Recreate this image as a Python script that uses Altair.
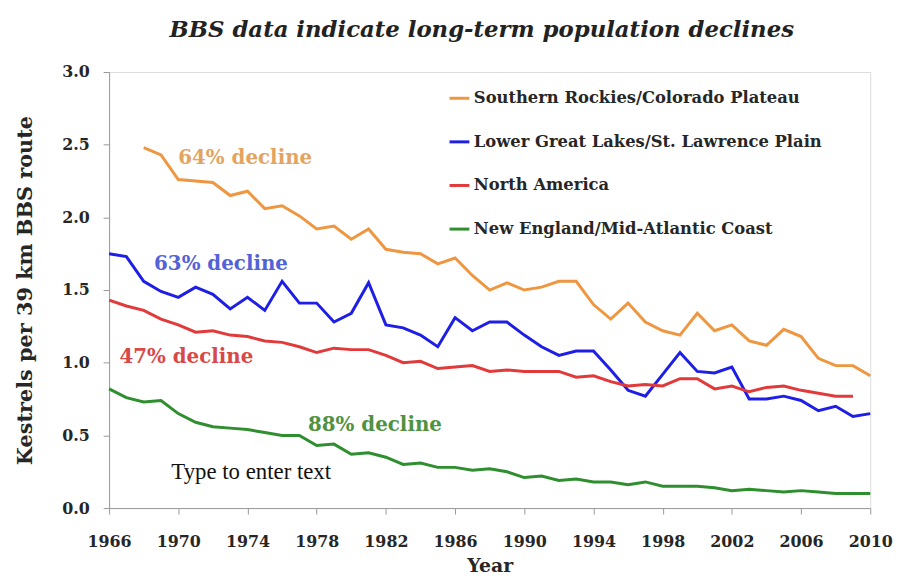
import altair as alt
import pandas as pd

years = list(range(1966, 2011))

south_rockies = [None, None, 2.48, 2.43, 2.26, 2.25, 2.24, 2.15, 2.18, 2.06, 2.08, 2.01, 1.92, 1.94, 1.85,
                 1.92, 1.78, 1.76, 1.75, 1.68, 1.72, 1.60, 1.50, 1.55, 1.50, 1.52, 1.56, 1.56, 1.40, 1.30,
                 1.41, 1.28, 1.22, 1.19, 1.34, 1.22, 1.26, 1.15, 1.12, 1.23, 1.18, 1.03, 0.98, 0.98, 0.91]
great_lakes = [1.75, 1.73, 1.56, 1.49, 1.45, 1.52, 1.47, 1.37, 1.45, 1.36, 1.56, 1.41, 1.41, 1.28, 1.34,
               1.55, 1.26, 1.24, 1.19, 1.11, 1.31, 1.22, 1.28, 1.28, 1.19, 1.11, 1.05, 1.08, 1.08, 0.95,
               0.81, 0.77, 0.92, 1.07, 0.94, 0.93, 0.97, 0.75, 0.75, 0.77, 0.74, 0.67, 0.70, 0.63, 0.65]
north_america = [1.43, 1.39, 1.36, 1.30, 1.26, 1.21, 1.22, 1.19, 1.18, 1.15, 1.14, 1.11, 1.07, 1.10, 1.09,
                 1.09, 1.05, 1.00, 1.01, 0.96, 0.97, 0.98, 0.94, 0.95, 0.94, 0.94, 0.94, 0.90, 0.91, 0.87,
                 0.84, 0.85, 0.84, 0.89, 0.89, 0.82, 0.84, 0.80, 0.83, 0.84, 0.81, 0.79, 0.77, 0.77, None]
new_england = [0.82, 0.76, 0.73, 0.74, 0.65, 0.59, 0.56, 0.55, 0.54, 0.52, 0.50, 0.50, 0.43, 0.44, 0.37,
               0.38, 0.35, 0.30, 0.31, 0.28, 0.28, 0.26, 0.27, 0.25, 0.21, 0.22, 0.19, 0.20, 0.18, 0.18,
               0.16, 0.18, 0.15, 0.15, 0.15, 0.14, 0.12, 0.13, 0.12, 0.11, 0.12, 0.11, 0.10, 0.10, 0.10]

series_names = ["Southern Rockies/Colorado Plateau", "Lower Great Lakes/St. Lawrence Plain",
                "North America", "New England/Mid-Atlantic Coast"]
series_values = [south_rockies, great_lakes, north_america, new_england]
series_colors = ["#EE9640", "#1E1EE6", "#E23A3A", "#2F8F2F"]

ann_text = ["64% decline", "63% decline", "47% decline", "88% decline"]
ann_year = [1970.0, 1968.6, 1966.6, 1977.5]
ann_val = [2.41, 1.68, 1.04, 0.57]
ann_color = ["#E3A462", "#5262D8", "#D84848", "#4F9241"]

note_text = ["Type to enter text"]
note_year = [1969.6]
note_val = [0.25]

x_ticks = list(range(1966, 2011, 4))
y_ticks = [0.0, 0.5, 1.0, 1.5, 2.0, 2.5, 3.0]

rows = []
for name, vals in zip(series_names, series_values):
    for y, v in zip(years, vals):
        if v is not None:
            rows.append({"Year": y, "Value": v, "Series": name})
df = pd.DataFrame(rows)

ann_df = pd.DataFrame({"text": ann_text, "Year": ann_year, "Value": ann_val, "color": ann_color})
note_df = pd.DataFrame({"text": note_text, "Year": note_year, "Value": note_val})

BOLD_FONT = "DejaVu Serif"
NOTE_FONT = "Liberation Serif"

x_scale = alt.Scale(domain=[1966, 2010], nice=False, zero=False)
y_scale = alt.Scale(domain=[0, 3.0], nice=False)

lines = alt.Chart(df).mark_line(strokeWidth=3).encode(
    x=alt.X("Year:Q", scale=x_scale,
            axis=alt.Axis(values=x_ticks, format="d", title="Year", grid=False,
                          labelFont=BOLD_FONT, labelFontSize=16, labelFontWeight="bold", labelColor="#262626",
                          titleFont=BOLD_FONT, titleFontSize=19, titleFontWeight="bold", titleColor="#262626",
                          tickSize=6, labelPadding=20, titlePadding=7,
                          domainColor="#999", tickColor="#999", labelFlush=False)),
    y=alt.Y("Value:Q", scale=y_scale,
            axis=alt.Axis(values=y_ticks, format=".1f", title="Kestrels per 39 km BBS route", grid=False,
                          labelFont=BOLD_FONT, labelFontSize=16, labelFontWeight="bold", labelColor="#262626",
                          titleFont=BOLD_FONT, titleFontSize=21, titleFontWeight="bold", titleColor="#262626",
                          tickSize=6, labelPadding=14, titlePadding=26,
                          domainColor="#999", tickColor="#999")),
    color=alt.Color("Series:N", sort=series_names,
                    scale=alt.Scale(domain=series_names, range=series_colors),
                    legend=alt.Legend(title=None, orient="none", legendX=342, legendY=15,
                                      symbolType="stroke", symbolSize=400, symbolStrokeWidth=3,
                                      labelFont=BOLD_FONT, labelFontSize=16.5, labelFontWeight="bold",
                                      labelColor="#262626", rowPadding=24, labelOffset=3, labelLimit=500)),
    detail="Series:N",
)

ann = alt.Chart(ann_df).mark_text(align="left", baseline="middle", font=BOLD_FONT, fontSize=20,
                                  fontWeight="bold").encode(
    x=alt.X("Year:Q", scale=x_scale),
    y=alt.Y("Value:Q", scale=y_scale),
    text="text:N",
    color=alt.Color("color:N", scale=None),
)

note = alt.Chart(note_df).mark_text(align="left", baseline="middle", font=NOTE_FONT, fontSize=23,
                                    color="#111").encode(
    x=alt.X("Year:Q", scale=x_scale),
    y=alt.Y("Value:Q", scale=y_scale),
    text="text:N",
)

chart = alt.layer(lines, ann, note).properties(
    width=768, height=440,
    padding={"left": 102, "top": 62, "right": 30, "bottom": 70},
    autosize=alt.AutoSizeParams(type="none"),
    title=alt.TitleParams("BBS data indicate long-term population declines",
                          font=BOLD_FONT, fontSize=23, fontWeight="bold", fontStyle="italic",
                          color="#222", anchor="middle", offset=22, dx=-8),
).configure_view(stroke=None).configure(background="white")

chart.save("out.html", embed_options={"renderer": "svg", "actions": False})
